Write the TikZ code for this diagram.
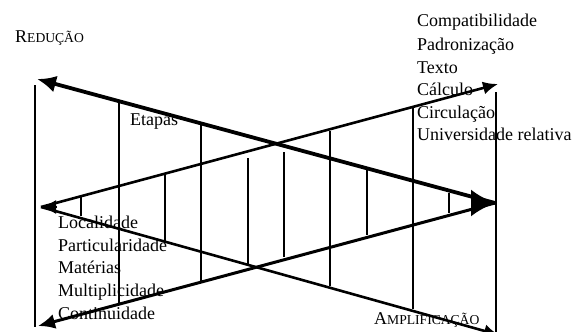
\documentclass[tikz,border=0pt]{standalone}
\usepackage{fontspec}
\setmainfont{Liberation Serif}
\usetikzlibrary{arrows.meta,calc}
\newcommand{\fsc}[2]{{\fontsize{18}{20}\selectfont #1}{\fontsize{13.6}{20}\selectfont #2}}
\begin{document}
\begin{tikzpicture}[x=1pt,y=-1pt,
  lbl/.style={anchor=base west, inner sep=0pt, font=\fontsize{18}{20}\selectfont},
  vbar/.style={line width=2.2pt},
  vbarb/.style={line width=2.8pt},
  redline/.style={line width=3.8pt},
  redline2/.style={line width=3pt},
  ampline/.style={line width=2.6pt}]
\useasboundingbox (0,0) rectangle (582,332);
% texts
\node[lbl] (red) at (15,42) {\fsc{R}{EDUÇÃO}};
\node[lbl] (amp) at (374,324) {\fsc{A}{MPLIFICAÇÃO}};
\node[lbl] (eta) at (130,125) {Etapas};
\node[lbl] (r1) at (417,27) {Compatibilidade};
\node[lbl] (r2) at (417,50) {Padronização};
\node[lbl] (r3) at (417,73) {Texto};
\node[lbl] (r4) at (417,95) {Cálculo};
\node[lbl] (r5) at (417,118) {Circulação};
\node[lbl] (r6) at (417,140) {Universidade relativa};
\node[lbl] (l1) at (58,228) {Localidade};
\node[lbl] (l2) at (58,251) {Particularidade};
\node[lbl] (l3) at (58,273) {Matérias};
\node[lbl] (l4) at (58,296) {Multiplicidade};
\node[lbl] (l5) at (58,319) {Continuidade};
% key points
\coordinate (RT) at (37,79);
\coordinate (RB) at (38,326);
\coordinate (R) at (495,203);
\coordinate (A) at (41,207);
\coordinate (AU) at (498,84);
\coordinate (AD) at (499,335);
% reduction
\draw[redline, -{Latex[length=19pt,width=17pt]}] (R) -- (RT);
\draw[redline2, -{Latex[length=17pt,width=15pt]}] (R) -- (RB);
\draw[line width=2pt, -{Latex[length=24pt,width=27pt]}] ($(R)+(-22,0)$) -- (R);
% amplification
\draw[ampline, -{Latex[length=15pt,width=13pt]}] (A) -- (AU);
\draw[ampline, -{Latex[length=15pt,width=13pt]}] (A) -- (AD);
\draw[line width=2pt, -{Latex[length=15pt,width=14pt]}] ($(A)+(16,0)$) -- (A);
% verticals
\draw[vbarb] (35,85) -- (35,327);
\draw[vbar] (496,92) -- (496,332);
\draw[vbarb] (119,102) -- (119,304);
\draw[vbar] (81,197) -- (81,216);
\draw[vbar] (165,174) -- (165,242);
\draw[vbarb] (201,125) -- (201,282);
\draw[vbarb] (248,158) -- (248,265);
\draw[vbarb] (284,152) -- (284,257);
\draw[vbar] (330,131) -- (330,286);
\draw[vbarb] (367,170) -- (367,235);
\draw[vbar] (413,108) -- (413,309);
\draw[vbar] (449,193) -- (449,213);
\end{tikzpicture}
\end{document}
